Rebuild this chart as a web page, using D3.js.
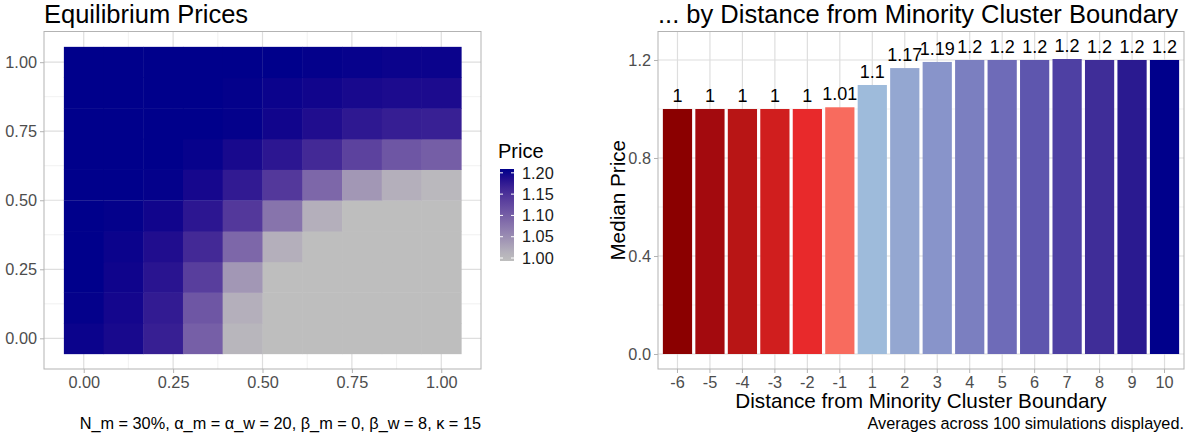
<!DOCTYPE html>
<html>
<head>
<meta charset="utf-8">
<script src="https://cdn.jsdelivr.net/npm/d3@7"></script>
<style>
  body { margin: 0; background: #fff; }
  svg { font-family: "Liberation Sans", Arial, sans-serif; display: block; }
</style>
</head>
<body>
<svg width="1188" height="437"></svg>
<script>
// heatmap grid positions (x and y share the same grid)
const gridPos = [0, 0.111, 0.222, 0.333, 0.444, 0.556, 0.667, 0.778, 0.889, 1];
// equilibrium price per cell, one row per y value (bottom row first)
const priceRows = [
  [1.197, 1.192, 1.171, 1.1, 1.008, 1.0, 1.0, 1.0, 1.0, 1.0],
  [1.199, 1.194, 1.175, 1.11, 1.015, 1.0, 1.0, 1.0, 1.0, 1.0],
  [1.2, 1.196, 1.182, 1.137, 1.04, 1.0, 1.0, 1.0, 1.0, 1.0],
  [1.2, 1.197, 1.188, 1.16, 1.091, 1.015, 1.0, 1.0, 1.0, 1.0],
  [1.2, 1.199, 1.195, 1.18, 1.143, 1.077, 1.015, 1.0, 1.0, 1.0],
  [1.2, 1.2, 1.199, 1.193, 1.176, 1.143, 1.091, 1.04, 1.015, 1.006],
  [1.2, 1.2, 1.2, 1.198, 1.192, 1.18, 1.16, 1.132, 1.11, 1.101],
  [1.2, 1.2, 1.2, 1.2, 1.199, 1.195, 1.188, 1.178, 1.172, 1.17],
  [1.2, 1.2, 1.2, 1.2, 1.199, 1.197, 1.195, 1.192, 1.19, 1.19],
  [1.2, 1.2, 1.2, 1.2, 1.2, 1.2, 1.199, 1.198, 1.197, 1.197]
];
const heatTicks = [0, 0.25, 0.5, 0.75, 1];
const heatMinor = [0.125, 0.375, 0.625, 0.875];
const legendTicks = [1.0, 1.05, 1.1, 1.15, 1.2];

// bar chart data
const distances = ["-6", "-5", "-4", "-3", "-2", "-1", "1", "2", "3", "4", "5", "6", "7", "8", "9", "10"];
const medianPrice = [1.0, 1.0, 1.0, 1.0, 1.0, 1.007, 1.098, 1.167, 1.192, 1.2, 1.2, 1.2, 1.204, 1.2, 1.2, 1.2];
const barColors = ["#8b0000", "#a30a0e", "#b81515", "#d01e1e", "#e8292b", "#f86b5e",
  "#9ebbdb", "#94a7d1", "#8894ca", "#7b7fc0", "#6e6bb8", "#5e56ae", "#4e40a3", "#3f2d98", "#2a1a90", "#00008b"];
const barTicks = [0, 0.4, 0.8, 1.2];
const barMinor = [0.2, 0.6, 1.0];

const svg = d3.select('svg');
const gridMajor = '#dedede', gridMinorCol = '#eeeeee', borderCol = '#b3b3b3', tickText = '#4d4d4d';
const tickSize = '16.3px';

//style an axis group the ggplot way
function styleAxis(g) {
  g.select('.domain').remove();
  g.selectAll('.tick line').attr('stroke', borderCol);
  g.selectAll('.tick text').attr('fill', tickText).attr('font-size', tickSize)
    .attr('font-family', '"Liberation Sans", Arial, sans-serif');
}

// ---------- left: heatmap ----------
const L = { x0: 44, x1: 481, y0: 31.5, y1: 369 };
const xH = d3.scaleLinear().domain([-0.1111, 1.1111]).range([L.x0, L.x1]);
const yH = d3.scaleLinear().domain([-0.1111, 1.1111]).range([L.y1, L.y0]);
const color = d3.scaleLinear().domain([1.0, 1.2]).range(['#bebebe', '#00008b'])
  .interpolate(d3.interpolateLab).clamp(true);

const left = svg.append('g');
left.selectAll('.vminor').data(heatMinor).enter().append('line')
  .attr('x1', d => xH(d)).attr('x2', d => xH(d)).attr('y1', L.y0).attr('y2', L.y1)
  .attr('stroke', gridMinorCol).attr('stroke-width', 0.8);
left.selectAll('.hminor').data(heatMinor).enter().append('line')
  .attr('y1', d => yH(d)).attr('y2', d => yH(d)).attr('x1', L.x0).attr('x2', L.x1)
  .attr('stroke', gridMinorCol).attr('stroke-width', 0.8);
left.selectAll('.vmajor').data(heatTicks).enter().append('line')
  .attr('x1', d => xH(d)).attr('x2', d => xH(d)).attr('y1', L.y0).attr('y2', L.y1)
  .attr('stroke', gridMajor).attr('stroke-width', 1.2);
left.selectAll('.hmajor').data(heatTicks).enter().append('line')
  .attr('y1', d => yH(d)).attr('y2', d => yH(d)).attr('x1', L.x0).attr('x2', L.x1)
  .attr('stroke', gridMajor).attr('stroke-width', 1.2);

// cells
const half = (gridPos[1] - gridPos[0]) / 2;
const cells = [];
priceRows.forEach((row, j) => row.forEach((v, i) => cells.push({ x: gridPos[i], y: gridPos[j], v })));
left.selectAll('rect.cell').data(cells).enter().append('rect')
  .attr('class', 'cell')
  .attr('x', d => xH(d.x - half))
  .attr('y', d => yH(d.y + half))
  .attr('width', d => xH(d.x + half) - xH(d.x - half) + 0.5)
  .attr('height', d => yH(d.y - half) - yH(d.y + half) + 0.5)
  .attr('fill', d => color(d.v));

left.append('rect').attr('x', L.x0).attr('y', L.y0).attr('width', L.x1 - L.x0).attr('height', L.y1 - L.y0)
  .attr('fill', 'none').attr('stroke', borderCol).attr('stroke-width', 1);

left.append('g').attr('transform', `translate(${L.x0},0)`)
  .call(d3.axisLeft(yH).tickValues(heatTicks).tickFormat(d3.format('.2f')).tickSize(4).tickPadding(3))
  .call(styleAxis);
left.append('g').attr('transform', `translate(0,${L.y1})`)
  .call(d3.axisBottom(xH).tickValues(heatTicks).tickFormat(d3.format('.2f')).tickSize(4).tickPadding(3))
  .call(styleAxis);

left.append('text').attr('x', L.x0).attr('y', 23).attr('font-size', '25.5px').attr('fill', '#000')
  .text('Equilibrium Prices');
left.append('text').attr('x', L.x1).attr('y', 429).attr('text-anchor', 'end').attr('font-size', '16.3px')
  .attr('fill', '#000').text('N_m = 30%, α_m = α_w = 20, β_m = 0, β_w = 8, κ = 15');

// legend
const legY = d3.scaleLinear().domain([0.993, 1.209]).range([261, 169]);
const defs = svg.append('defs');
const grad = defs.append('linearGradient').attr('id', 'pgrad')
  .attr('x1', 0).attr('y1', 1).attr('x2', 0).attr('y2', 0);
d3.range(0, 1.0001, 0.1).forEach(t => {
  const v = legY.domain()[0] + t * (legY.domain()[1] - legY.domain()[0]);
  grad.append('stop').attr('offset', t).attr('stop-color', color(v));
});
const leg = svg.append('g');
leg.append('text').attr('x', 498).attr('y', 158).attr('font-size', '20px').attr('fill', '#000').text('Price');
leg.append('rect').attr('x', 500).attr('y', 169).attr('width', 14).attr('height', 92).attr('fill', 'url(#pgrad)');
leg.selectAll('.lt1').data(legendTicks).enter().append('line')
  .attr('x1', 500).attr('x2', 503).attr('y1', d => legY(d)).attr('y2', d => legY(d))
  .attr('stroke', '#fff').attr('stroke-width', 1);
leg.selectAll('.lt2').data(legendTicks).enter().append('line')
  .attr('x1', 511).attr('x2', 514).attr('y1', d => legY(d)).attr('y2', d => legY(d))
  .attr('stroke', '#fff').attr('stroke-width', 1);
leg.selectAll('.ll').data(legendTicks).enter().append('text')
  .attr('x', 522).attr('y', d => legY(d)).attr('dy', '0.35em')
  .attr('font-size', tickSize).attr('fill', '#1a1a1a').text(d => d3.format('.2f')(d));

// ---------- right: bar chart ----------
const R = { x0: 658, x1: 1184, y0: 31.5, y1: 369 };
const xB = d3.scaleBand().domain(distances).range([R.x0, R.x1]).paddingInner(0.1).paddingOuter(0.15);
const yB = d3.scaleLinear().domain([-0.0612, 1.3163]).range([R.y1, R.y0]);
const right = svg.append('g');

right.selectAll('.bminor').data(barMinor).enter().append('line')
  .attr('y1', d => yB(d)).attr('y2', d => yB(d)).attr('x1', R.x0).attr('x2', R.x1)
  .attr('stroke', gridMinorCol).attr('stroke-width', 0.8);
right.selectAll('.bmajor').data(barTicks).enter().append('line')
  .attr('y1', d => yB(d)).attr('y2', d => yB(d)).attr('x1', R.x0).attr('x2', R.x1)
  .attr('stroke', gridMajor).attr('stroke-width', 1.2);
right.selectAll('.bvert').data(distances).enter().append('line')
  .attr('x1', d => xB(d) + xB.bandwidth() / 2).attr('x2', d => xB(d) + xB.bandwidth() / 2)
  .attr('y1', R.y0).attr('y2', R.y1)
  .attr('stroke', gridMajor).attr('stroke-width', 1.2);

right.selectAll('rect.bar').data(distances).enter().append('rect')
  .attr('class', 'bar')
  .attr('x', d => xB(d))
  .attr('width', xB.bandwidth())
  .attr('y', (d, i) => yB(medianPrice[i]))
  .attr('height', (d, i) => yB(0) - yB(medianPrice[i]))
  .attr('fill', (d, i) => barColors[i]);

right.selectAll('text.val').data(distances).enter().append('text')
  .attr('class', 'val')
  .attr('x', d => xB(d) + xB.bandwidth() / 2)
  .attr('y', (d, i) => yB(medianPrice[i]) - 7)
  .attr('text-anchor', 'middle').attr('font-size', '18px').attr('fill', '#000')
  .text((d, i) => String(+medianPrice[i].toFixed(2)));

right.append('rect').attr('x', R.x0).attr('y', R.y0).attr('width', R.x1 - R.x0).attr('height', R.y1 - R.y0)
  .attr('fill', 'none').attr('stroke', borderCol).attr('stroke-width', 1);

right.append('g').attr('transform', `translate(${R.x0},0)`)
  .call(d3.axisLeft(yB).tickValues(barTicks).tickFormat(d3.format('.1f')).tickSize(4).tickPadding(3))
  .call(styleAxis);
right.append('g').attr('transform', `translate(0,${R.y1})`)
  .call(d3.axisBottom(xB).tickSize(4).tickPadding(3))
  .call(styleAxis);

right.append('text').attr('x', R.x0).attr('y', 23).attr('font-size', '25.5px').attr('fill', '#000')
  .text('... by Distance from Minority Cluster Boundary');
right.append('text').attr('transform', `translate(625,${(R.y0 + R.y1) / 2}) rotate(-90)`)
  .attr('text-anchor', 'middle').attr('font-size', '20.7px').attr('fill', '#000').text('Median Price');
right.append('text').attr('x', (R.x0 + R.x1) / 2).attr('y', 408).attr('text-anchor', 'middle')
  .attr('font-size', '20.7px').attr('fill', '#000').text('Distance from Minority Cluster Boundary');
right.append('text').attr('x', R.x1).attr('y', 429).attr('text-anchor', 'end')
  .attr('font-size', '16.3px').attr('fill', '#000').text('Averages across 100 simulations displayed.');
</script>
</body>
</html>
